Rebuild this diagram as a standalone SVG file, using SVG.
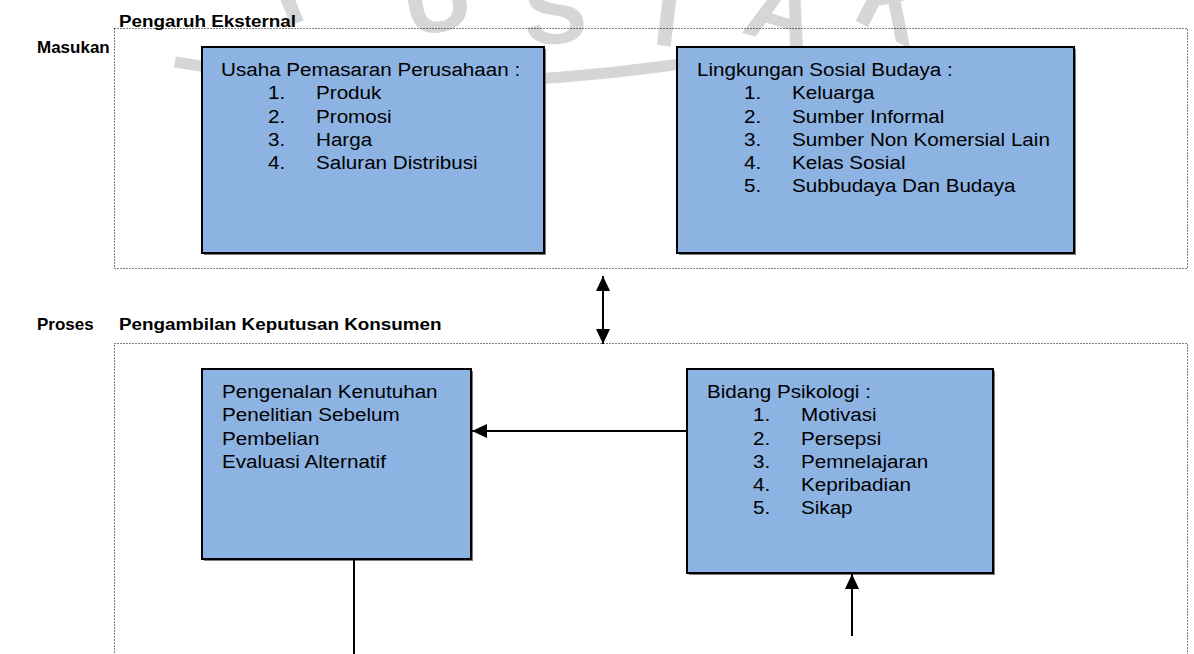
<svg xmlns="http://www.w3.org/2000/svg" width="1194" height="654" viewBox="0 0 1194 654">
<defs>
<style>
.t{font-family:"Liberation Sans",Arial,sans-serif;font-size:18.6px;fill:#000}
.b{font-family:"Liberation Sans",Arial,sans-serif;font-size:17px;font-weight:bold;fill:#000}
.wm{font-family:"Liberation Sans",Arial,sans-serif;font-size:95px;font-weight:bold;fill:#d6d6d6}
.box{fill:#8db3e2;stroke:#000;stroke-width:2}
.sh{fill:#7f7f7f}
.dot{fill:none;stroke:#000;stroke-width:1;stroke-dasharray:1 2}
.ln{fill:none;stroke:#000;stroke-width:2}
</style>
<marker id="ah" viewBox="0 0 15 14" refX="15" refY="7" markerWidth="15" markerHeight="14" markerUnits="userSpaceOnUse" orient="auto-start-reverse">
<path d="M0 0L15 7L0 14z" fill="#000"/>
</marker>
</defs>
<rect width="1194" height="654" fill="#fff"/>
<g id="watermark">
<path d="M175 62 Q 430 105 720 58" fill="none" stroke="#d6d6d6" stroke-width="11"/>
<text class="wm" transform="translate(285 28) rotate(-22)">P</text>
<text class="wm" transform="translate(410 38) rotate(-12)">U</text>
<text class="wm" transform="translate(525 45) rotate(-3)">S</text>
<text class="wm" transform="translate(635 42) rotate(7)">T</text>
<text class="wm" transform="translate(740 32) rotate(17)">A</text>
<text class="wm" transform="translate(850 18) rotate(27)">K</text>
</g>
<g id="frames">
<rect class="dot" x="114.5" y="28.5" width="1073" height="240"/>
<rect class="dot" x="114.5" y="343.5" width="1073" height="340"/>
</g>
<g id="labels">
<text class="b" transform="translate(37 53) scale(1.0 1)">Masukan</text>
<text class="b" transform="translate(119 27) scale(1.11 1)">Pengaruh Eksternal</text>
<text class="b" transform="translate(37 330) scale(1.0 1)">Proses</text>
<text class="b" transform="translate(119 330) scale(1.11 1)">Pengambilan Keputusan Konsumen</text>
</g>
<g id="node-usaha">
<rect class="sh" x="204" y="49" width="342" height="206"/>
<rect class="box" x="202" y="47" width="342" height="206"/>
<text class="t" transform="translate(221 0) scale(1.11 1)"><tspan x="0" y="76">Usaha Pemasaran Perusahaan :</tspan><tspan x="42.3" y="99.3">1.</tspan><tspan x="85.6" y="99.3">Produk</tspan><tspan x="42.3" y="122.6">2.</tspan><tspan x="85.6" y="122.6">Promosi</tspan><tspan x="42.3" y="145.9">3.</tspan><tspan x="85.6" y="145.9">Harga</tspan><tspan x="42.3" y="169.2">4.</tspan><tspan x="85.6" y="169.2">Saluran Distribusi</tspan></text>
</g>
<g id="node-sosial">
<rect class="sh" x="679" y="49" width="397" height="206"/>
<rect class="box" x="677" y="47" width="397" height="206"/>
<text class="t" transform="translate(697 0) scale(1.11 1)"><tspan x="0" y="76">Lingkungan Sosial Budaya :</tspan><tspan x="42.3" y="99.3">1.</tspan><tspan x="85.6" y="99.3">Keluarga</tspan><tspan x="42.3" y="122.6">2.</tspan><tspan x="85.6" y="122.6">Sumber Informal</tspan><tspan x="42.3" y="145.9">3.</tspan><tspan x="85.6" y="145.9">Sumber Non Komersial Lain</tspan><tspan x="42.3" y="169.2">4.</tspan><tspan x="85.6" y="169.2">Kelas Sosial</tspan><tspan x="42.3" y="192.5">5.</tspan><tspan x="85.6" y="192.5">Subbudaya Dan Budaya</tspan></text>
</g>
<g id="node-keputusan">
<rect class="sh" x="204" y="371" width="269" height="190"/>
<rect class="box" x="202" y="369" width="269" height="190"/>
<text class="t" transform="translate(222 0) scale(1.11 1)"><tspan x="0" y="398">Pengenalan Kenutuhan</tspan><tspan x="0" y="421.3">Penelitian Sebelum</tspan><tspan x="0" y="444.6">Pembelian</tspan><tspan x="0" y="467.9">Evaluasi Alternatif</tspan></text>
</g>
<g id="node-psikologi">
<rect class="sh" x="689" y="371" width="306" height="204"/>
<rect class="box" x="687" y="369" width="306" height="204"/>
<text class="t" transform="translate(707 0) scale(1.11 1)"><tspan x="0" y="398">Bidang Psikologi :</tspan><tspan x="41.4" y="421.3">1.</tspan><tspan x="84.7" y="421.3">Motivasi</tspan><tspan x="41.4" y="444.6">2.</tspan><tspan x="84.7" y="444.6">Persepsi</tspan><tspan x="41.4" y="467.9">3.</tspan><tspan x="84.7" y="467.9">Pemnelajaran</tspan><tspan x="41.4" y="491.2">4.</tspan><tspan x="84.7" y="491.2">Kepribadian</tspan><tspan x="41.4" y="514.5">5.</tspan><tspan x="84.7" y="514.5">Sikap</tspan></text>
</g>
<g id="connectors">
<line class="ln" x1="603" y1="276" x2="603" y2="344" marker-start="url(#ah)" marker-end="url(#ah)"/>
<line class="ln" x1="687" y1="431" x2="472" y2="431" marker-end="url(#ah)"/>
<line class="ln" x1="852" y1="636" x2="852" y2="574" marker-end="url(#ah)"/>
<line class="ln" x1="354" y1="560" x2="354" y2="654"/>
</g>
</svg>
